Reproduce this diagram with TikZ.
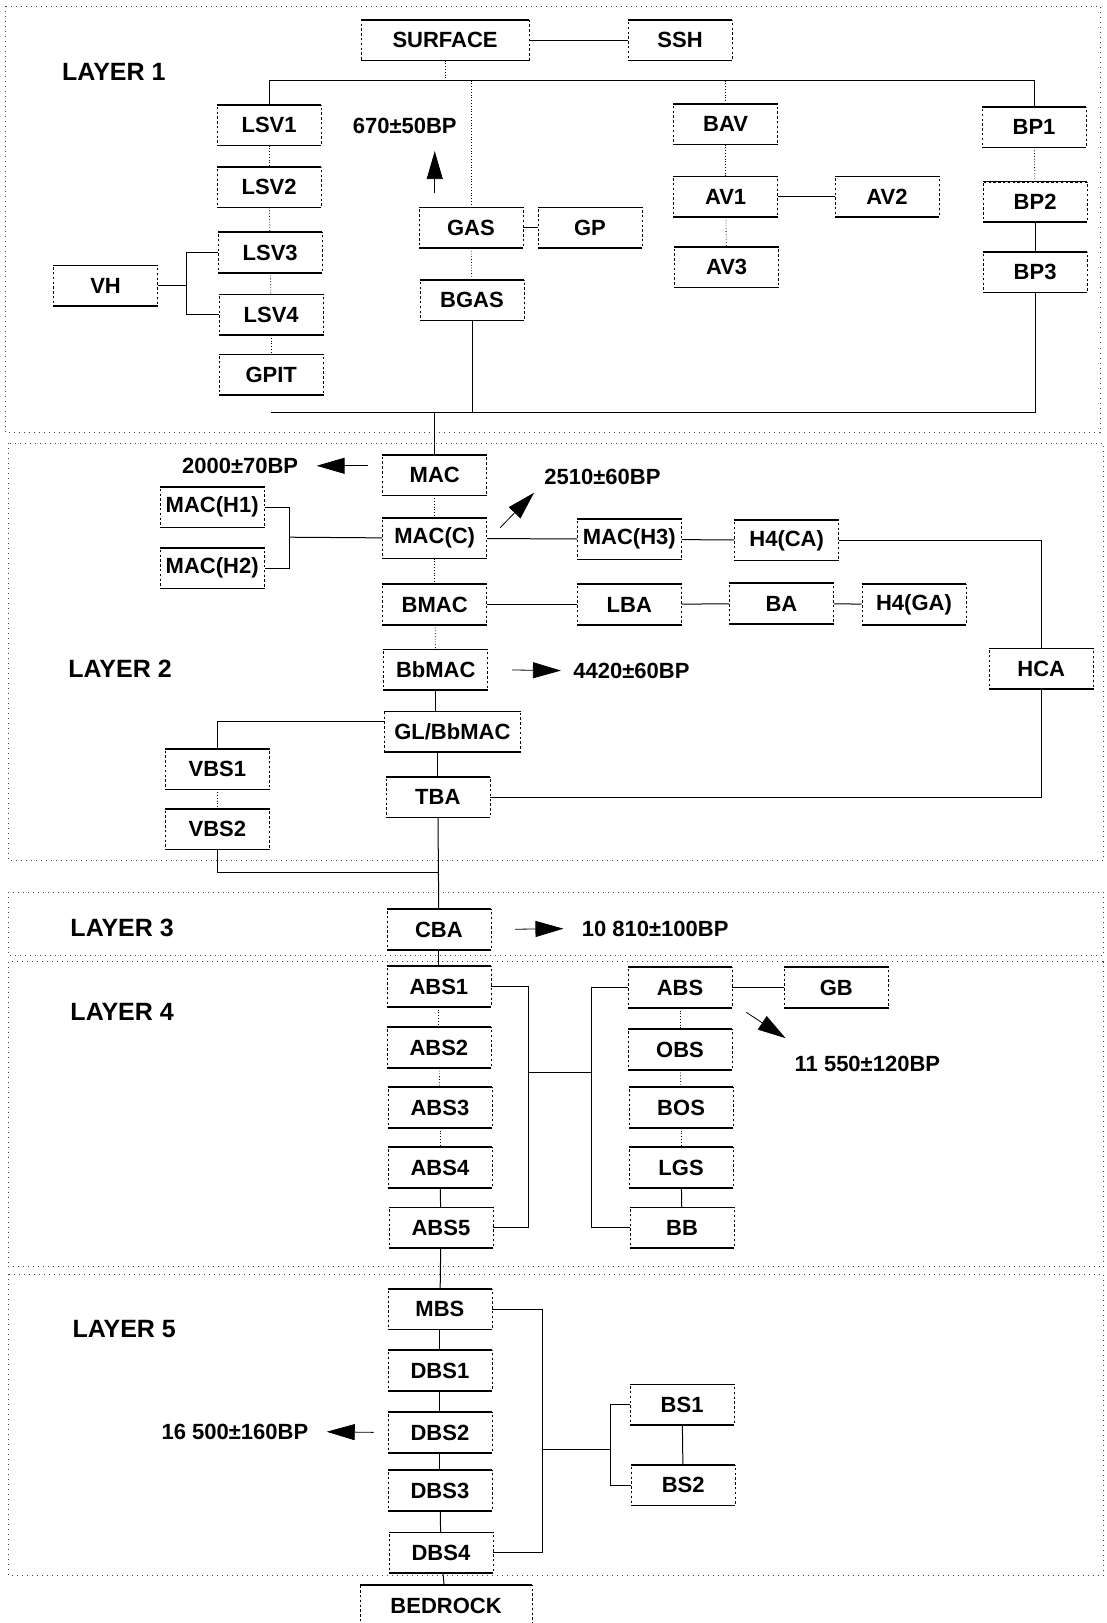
\documentclass[tikz,border=0pt]{standalone}
\usepackage{fontspec}
\setmainfont{Liberation Sans}
\usepackage{tikz}
\usetikzlibrary{arrows.meta,calc}

\begin{document}
\begin{tikzpicture}[
  x=0.5173pt,y=-0.5173pt,
  font=\bfseries\fontsize{11}{13}\selectfont,
  unit/.style={draw,line width=0.3pt,dash pattern=on 1.2pt off 1.2pt,minimum width=52pt,minimum height=20pt,inner sep=1pt,
    append after command={(\tikzlastnode.north west) edge[solid,line width=0.8pt] (\tikzlastnode.north east)
      (\tikzlastnode.south west) edge[solid,line width=0.8pt] (\tikzlastnode.south east)}},
  layer/.style={draw,dotted,line width=0.5pt,black!75},
  tag/.style={font=\bfseries\fontsize{12.5}{14}\selectfont},
  date/.style={inner sep=0pt},
  link/.style={line width=0.5pt},
  stack/.style={line width=0.4pt,densely dotted},
  age/.style={-{Triangle[length=14pt,width=8pt]},line width=0.4pt}
]
\useasboundingbox (0,0) rectangle (1069,1568);
\draw[layer] (5,6) rectangle (1063,418);
\draw[layer] (8,428) rectangle (1066,831);
\draw[layer] (8,862) rectangle (1066,923);
\draw[layer] (8,929) rectangle (1066,1224);
\draw[layer] (8,1231) rectangle (1066,1522);

\node[tag] (l1) at (110,69) {LAYER 1};
\node[tag] (l2) at (116,646) {LAYER 2};
\node[tag] (l3) at (118,896) {LAYER 3};
\node[tag] (l4) at (118,978) {LAYER 4};
\node[tag] (l5) at (120,1284) {LAYER 5};

\node[unit,minimum width=84pt] (surface) at (430,39) {SURFACE};
\node[unit] (ssh) at (657,39) {SSH};
\node[unit] (lsv1) at (260,121) {LSV1};
\node[unit] (lsv2) at (260,181) {LSV2};
\node[unit] (lsv3) at (261,244) {LSV3};
\node[unit] (lsv4) at (262,304) {LSV4};
\node[unit] (gpit) at (262,362) {GPIT};
\node[unit] (vh) at (102,276) {VH};
\node[date] (d670) at (391,122) {670±50BP};
\node[unit] (gas) at (455,220) {GAS};
\node[unit] (gp) at (570,220) {GP};
\node[unit] (bgas) at (456,290) {BGAS};
\node[unit] (bav) at (701,120) {BAV};
\node[unit] (av1) at (701,190) {AV1};
\node[unit] (av2) at (857,190) {AV2};
\node[unit] (av3) at (702,258) {AV3};
\node[unit] (bp1) at (999,123) {BP1};
\node[unit] (bp2) at (1000,195) {BP2};
\node[unit] (bp3) at (1000,263) {BP3};

\node[unit] (mac) at (420,459) {MAC};
\node[date] (d2000) at (232,450) {2000±70BP};
\node[unit] (mach1) at (205,490) {MAC(H1)};
\node[unit] (mach2) at (205,549) {MAC(H2)};
\node[unit] (macc) at (420,520) {MAC(C)};
\node[date] (d2510) at (582,461) {2510±60BP};
\node[unit] (mach3) at (608,521) {MAC(H3)};
\node[unit] (h4ca) at (760,522) {H4(CA)};
\node[unit] (bmac) at (420,584) {BMAC};
\node[unit] (lba) at (608,584) {LBA};
\node[unit] (ba) at (755,583) {BA};
\node[unit] (h4ga) at (883,584) {H4(GA)};
\node[unit] (hca) at (1006,646) {HCA};
\node[unit] (bbmac) at (421,647) {BbMAC};
\node[date] (d4420) at (610,648) {4420±60BP};
\node[unit,minimum width=68pt] (glbb) at (437,707) {GL/BbMAC};
\node[unit] (vbs1) at (210,743) {VBS1};
\node[unit] (vbs2) at (210,801) {VBS2};
\node[unit] (tba) at (423,770) {TBA};

\node[unit] (cba) at (424,898) {CBA};
\node[date] (d10810) at (633,897) {10 810±100BP};

\node[unit] (abs1) at (424,953) {ABS1};
\node[unit] (abs2) at (424,1012) {ABS2};
\node[unit] (abs3) at (425,1070) {ABS3};
\node[unit] (abs4) at (425,1128) {ABS4};
\node[unit] (abs5) at (426,1186) {ABS5};
\node[unit] (abs) at (657,954) {ABS};
\node[unit] (gb) at (808,954) {GB};
\node[date] (d11550) at (838,1028) {11 550±120BP};
\node[unit] (obs) at (657,1014) {OBS};
\node[unit] (bos) at (658,1070) {BOS};
\node[unit] (lgs) at (658,1128) {LGS};
\node[unit] (bb) at (659,1186) {BB};

\node[unit] (mbs) at (425,1265) {MBS};
\node[unit] (dbs1) at (425,1324) {DBS1};
\node[unit] (dbs2) at (425,1384) {DBS2};
\node[unit] (dbs3) at (425,1440) {DBS3};
\node[unit] (dbs4) at (426,1500) {DBS4};
\node[unit] (bs1) at (659,1357) {BS1};
\node[unit] (bs2) at (660,1435) {BS2};
\node[date] (d16500) at (227,1383) {16 500±160BP};
\node[unit,minimum width=86pt] (bedrock) at (431,1551) {BEDROCK};

\coordinate (top1) at (0,78);
\coordinate (bot1) at (0,399);
\coordinate (vhj) at (180,276);
\coordinate (a670) at (420,146);
\draw[link] (surface) -- (ssh);
\draw[link] (lsv1.north) -- (lsv1.north |- top1) -| (bp1.north);
\draw[stack] (surface.south) -- (surface.south |- top1);
\draw[stack] (gas.north) -- (gas.north |- top1);
\draw[stack] (bav.north) -- (bav.north |- top1);
\draw[stack] (lsv1) -- (lsv2);
\draw[stack] (lsv2) -- (lsv3);
\draw[stack] (lsv3) -- (lsv4);
\draw[stack] (lsv4) -- (gpit);
\draw[link] (vh) -- (vhj);
\draw[link] (lsv3.west) -| (vhj) |- (lsv4.west);
\draw[link] (gas) -- (gp);
\draw[stack] (gas) -- (bgas);
\draw[link] (bgas) -- (bgas.south |- bot1);
\draw[stack] (bav) -- (av1);
\draw[stack] (av1) -- (av3);
\draw[link] (av1) -- (av2);
\draw[stack] (bp1) -- (bp2);
\draw[link] (bp2) -- (bp3);
\draw[link] (gpit.south |- bot1) -| (bp3.south);
\draw[age,shorten <=7pt] (gas.north -| a670) -- (a670);

\coordinate (hj) at (280,519);
\coordinate (a2510t) at (483,510);
\coordinate (a2510h) at (516,476);
\coordinate (vj) at (0,843);
\draw[link] (mac.north |- bot1) -- (mac);
\draw[age,shorten <=7pt,shorten >=9pt] (mac.west |- d2000.east) -- (d2000.east);
\draw[stack] (mac) -- (macc);
\draw[stack] (macc) -- (bmac);
\draw[stack] (bmac) -- (bbmac);
\draw[link] (bbmac.south) -- (bbmac.south |- glbb.north);
\draw[link] (tba.north |- glbb.south) -- (tba.north);
\draw[link] (mach1.east) -| (hj) |- (mach2.east);
\draw[link] (hj) -- (macc);
\draw[age] (a2510t) -- (a2510h);
\draw[link] (macc) -- (mach3);
\draw[link] (mach3) -- (h4ca);
\draw[link] (h4ca.east) -| (hca.north);
\draw[link] (bmac) -- (lba);
\draw[link] (lba) -- (ba);
\draw[link] (ba) -- (h4ga);
\draw[link] (hca.south) |- (tba.east);
\draw[age,shorten <=12pt,shorten >=6pt] (bbmac.east) -- (d4420.west);
\draw[link] ([yshift=5pt]glbb.west) -| (vbs1.north);
\draw[stack] (vbs1) -- (vbs2);
\draw[link] (vbs2.south) |- (tba.south |- vj);
\draw[link] (tba) -- (cba);

\draw[age,shorten <=12pt,shorten >=9pt] (cba.east) -- (d10810.west);
\draw[link] (cba) -- (abs1);

\coordinate (aj) at (511,1036);
\coordinate (aj2) at (571,1036);
\coordinate (a11550t) at (721,978);
\coordinate (a11550h) at (759,1003);
\draw[stack] (abs1) -- (abs2);
\draw[stack] (abs2) -- (abs3);
\draw[stack] (abs3) -- (abs4);
\draw[link] (abs4) -- (abs5);
\draw[stack] (abs) -- (obs);
\draw[stack] (obs) -- (bos);
\draw[stack] (bos) -- (lgs);
\draw[link] (lgs) -- (bb);
\draw[link] (abs1.east) -| (aj) |- (abs5.east);
\draw[link] (aj) -- (aj2);
\draw[link] (abs.west) -| (aj2) |- (bb.west);
\draw[link] (abs) -- (gb);
\draw[age] (a11550t) -- (a11550h);
\draw[link] (abs5) -- (mbs);

\coordinate (mj) at (524,1400);
\coordinate (mj2) at (590,1400);
\draw[link] (mbs) -- (dbs1);
\draw[link] (dbs1) -- (dbs2);
\draw[link] (dbs2) -- (dbs3);
\draw[link] (dbs3) -- (dbs4);
\draw[link] (mbs.east) -| (mj) |- (dbs4.east);
\draw[link] (mj) -- (mj2);
\draw[link] (bs1.west) -| (mj2) |- (bs2.west);
\draw[link] (bs1) -- (bs2);
\draw[age,shorten <=7pt,shorten >=9pt] (dbs2.west) -- (d16500.east);
\draw[link] (dbs4) -- (bedrock);
\end{tikzpicture}
\end{document}
